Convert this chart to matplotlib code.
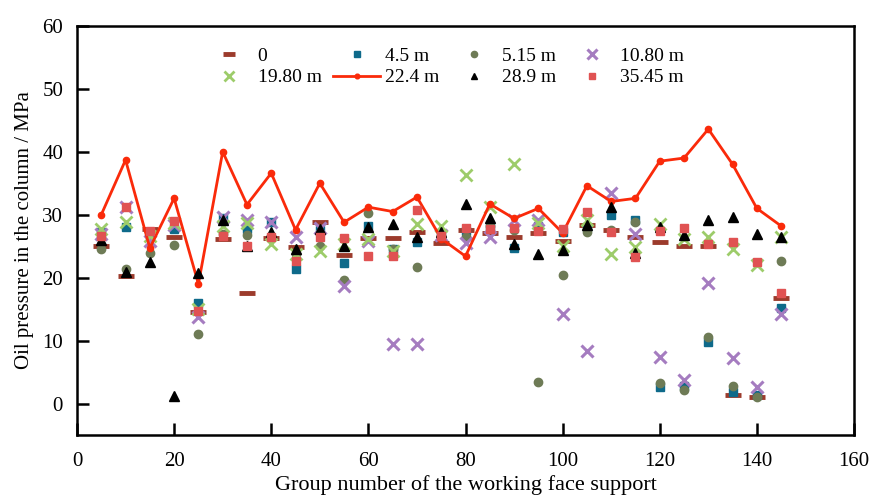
import matplotlib.pyplot as plt

plt.rcParams['font.family'] = ['Liberation Serif', 'DejaVu Serif']
plt.rcParams['mathtext.fontset'] = 'stix'

# x positions of the supports
groups = [5, 10, 15, 20, 25, 30, 35, 40, 45, 50, 55, 60, 65, 70, 75,
          80, 85, 90, 95, 100, 105, 110, 115, 120, 125, 130, 135, 140, 145]

s_0 = [25.0, 20.3, 27.8, 26.4, 14.5, 26.1, 17.5, 26.3, 24.9, 28.9, 23.6, 26.3, 26.3, 27.2, 25.5,
       27.6, 27.1, 26.4, 27.1, 25.9, 28.4, 27.5, 26.5, 25.6, 25.1, 25.1, 1.4, 1.1, 16.7]
s_45 = [27.2, 28.0, 27.0, 27.7, 15.9, 29.5, 27.8, 28.9, 21.4, 27.5, 22.4, 28.2, 24.5, 25.7, 26.8,
        27.4, 28.0, 24.7, 28.2, 27.2, 28.0, 30.0, 29.1, 2.6, 2.8, 9.8, 1.8, 1.4, 15.2]
s_515 = [24.6, 21.3, 23.9, 25.2, 11.1, 27.0, 26.7, 26.5, 23.8, 25.0, 19.6, 30.2, 24.5, 21.7, 26.5,
         26.5, 28.2, 27.5, 3.4, 20.4, 27.2, 27.5, 28.8, 3.2, 2.2, 10.5, 2.8, 1.0, 22.6]
s_1080 = [27.0, 31.2, 25.8, 28.4, 13.7, 29.6, 29.1, 28.9, 26.5, 27.9, 18.7, 25.9, 9.5, 9.5, 26.7,
          25.5, 26.5, 29.2, 29.2, 14.2, 8.3, 33.4, 27.0, 7.4, 3.7, 19.2, 7.3, 2.6, 14.2]
s_1980 = [27.8, 28.8, 26.6, 28.7, 15.0, 28.2, 28.7, 25.3, 23.7, 24.2, 25.3, 26.1, 24.2, 28.5, 28.2,
          36.3, 31.3, 38.1, 28.7, 25.1, 29.2, 23.7, 24.8, 28.6, 26.1, 26.4, 24.6, 22.0, 26.5]
s_224 = [30.0, 38.7, 24.7, 32.6, 19.0, 40.0, 31.6, 36.6, 27.6, 35.0, 28.8, 31.2, 30.5, 32.8, 26.2,
         23.4, 31.7, 29.4, 31.0, 27.1, 34.6, 32.1, 32.6, 38.5, 39.0, 43.6, 38.0, 31.0, 28.2]
s_289 = [26.0, 20.9, 22.5, 1.2, 20.7, 29.1, 25.0, 27.2, 24.6, 27.7, 25.0, 28.1, 28.6, 26.5, 27.2,
         31.7, 29.5, 25.3, 23.8, 24.4, 28.3, 31.3, 23.9, 28.1, 26.7, 29.1, 29.6, 26.9, 26.4]
s_3545 = [26.6, 31.2, 27.4, 29.0, 14.7, 26.6, 25.1, 26.5, 22.7, 26.5, 26.3, 23.4, 23.4, 30.8, 26.6,
          27.9, 27.8, 27.9, 27.4, 27.7, 30.5, 27.2, 23.3, 27.4, 27.9, 25.3, 25.7, 22.5, 17.5]


def main() -> None:
    fig = plt.figure(figsize=(8.71, 4.97), dpi=100)
    ax = fig.add_axes([0.0884, 0.1247, 0.8921, 0.8233])

    h0, = ax.plot(groups, s_0, ls='none', marker='_', ms=11, mew=3.5, color='#9c3b2c', label='0')
    h1, = ax.plot(groups, s_45, ls='none', marker='s', ms=5.5, color='#0e6a8a', label='4.5 m')
    h2, = ax.plot(groups, s_515, ls='none', marker='o', ms=6, color='#6e7b56', label='5.15 m')
    h3, = ax.plot(groups, s_1080, ls='none', marker='x', ms=9, mew=2.2, color='#a57cc0', label='10.80 m')
    h4, = ax.plot(groups, s_1980, ls='none', marker='x', ms=9, mew=2.0, color='#9dcc6a', label='19.80 m')
    h5, = ax.plot(groups, s_224, ls='-', lw=2, marker='o', ms=4.5, color='#fa2a0a', label='22.4 m')
    h6, = ax.plot(groups, s_289, ls='none', marker='^', ms=6.5, color='black', label='28.9 m')
    h7, = ax.plot(groups, s_3545, ls='none', marker='s', ms=6, color='#e05252', label='35.45 m')

    # legend is filled row-wise in the reference
    handles = [h0, h4, h1, h5, h2, h6, h3, h7]
    fig.legend(handles=handles, ncol=4, frameon=False, fontsize=14,
               loc='upper left', bbox_to_anchor=(0.2165, 0.940),
               handlelength=2.4, columnspacing=0.6, labelspacing=0.2,
               markerscale=0.75, handletextpad=0.25)

    ax.set_xlim(0, 160)
    ax.set_ylim(-5, 60)
    ax.set_xticks(range(0, 161, 20))
    ax.set_yticks(range(0, 61, 10))
    ax.tick_params(direction='in', length=8.5, width=1.8, labelsize=15)
    ax.tick_params(axis='x', pad=12)
    ax.tick_params(axis='y', pad=10)
    for sp in ax.spines.values():
        sp.set_linewidth(1.8)

    ax.set_xlabel('Group number of the working face support', fontsize=16, labelpad=3)
    ax.set_ylabel('Oil pressure in the column / MPa', fontsize=15, labelpad=6)

    fig.savefig('out.png', dpi=100)


if __name__ == "__main__":
    main()
